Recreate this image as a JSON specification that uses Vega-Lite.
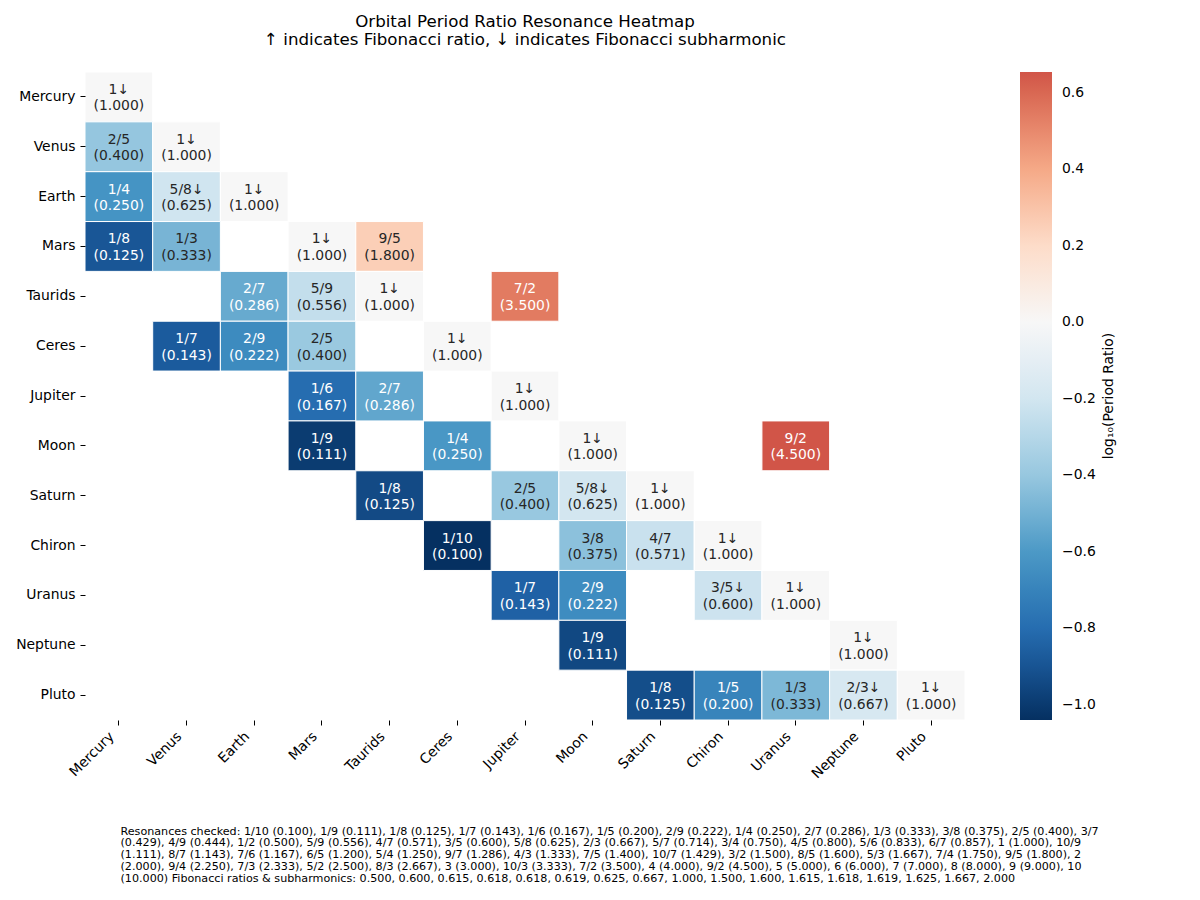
{
  "$schema": "https://vega.github.io/schema/vega-lite/v6.json",
  "width": 880,
  "height": 648,
  "autosize": {"type": "none"},
  "padding": {"left": 85, "top": 72, "right": 235, "bottom": 180},
  "background": "white",
  "title": {
    "text": ["Orbital Period Ratio Resonance Heatmap", "↑ indicates Fibonacci ratio, ↓ indicates Fibonacci subharmonic"],
    "anchor": "middle",
    "frame": "group",
    "font": "DejaVu Sans",
    "fontSize": 16.67,
    "fontWeight": "normal",
    "color": "black",
    "lineHeight": 17.5,
    "offset": 23
  },
  "config": {
    "view": {"stroke": null},
    "font": "DejaVu Sans"
  },
  "data": {
    "values": [
      {"row": "Mercury", "col": "Mercury", "v": 0.0, "label": "1↓\n(1.000)"},
      {"row": "Venus", "col": "Mercury", "v": -0.4074, "label": "2/5\n(0.400)"},
      {"row": "Venus", "col": "Venus", "v": 0.0, "label": "1↓\n(1.000)"},
      {"row": "Earth", "col": "Mercury", "v": -0.6183, "label": "1/4\n(0.250)"},
      {"row": "Earth", "col": "Venus", "v": -0.2110, "label": "5/8↓\n(0.625)"},
      {"row": "Earth", "col": "Earth", "v": 0.0, "label": "1↓\n(1.000)"},
      {"row": "Mars", "col": "Mercury", "v": -0.8927, "label": "1/8\n(0.125)"},
      {"row": "Mars", "col": "Venus", "v": -0.4853, "label": "1/3\n(0.333)"},
      {"row": "Mars", "col": "Mars", "v": 0.0, "label": "1↓\n(1.000)"},
      {"row": "Mars", "col": "Taurids", "v": 0.2558, "label": "9/5\n(1.800)"},
      {"row": "Taurids", "col": "Earth", "v": -0.5302, "label": "2/7\n(0.286)"},
      {"row": "Taurids", "col": "Mars", "v": -0.2558, "label": "5/9\n(0.556)"},
      {"row": "Taurids", "col": "Taurids", "v": 0.0, "label": "1↓\n(1.000)"},
      {"row": "Taurids", "col": "Jupiter", "v": 0.5440, "label": "7/2\n(3.500)"},
      {"row": "Ceres", "col": "Venus", "v": -0.8738, "label": "1/7\n(0.143)"},
      {"row": "Ceres", "col": "Earth", "v": -0.6628, "label": "2/9\n(0.222)"},
      {"row": "Ceres", "col": "Mars", "v": -0.3884, "label": "2/5\n(0.400)"},
      {"row": "Ceres", "col": "Ceres", "v": 0.0, "label": "1↓\n(1.000)"},
      {"row": "Jupiter", "col": "Mars", "v": -0.7998, "label": "1/6\n(0.167)"},
      {"row": "Jupiter", "col": "Taurids", "v": -0.5440, "label": "2/7\n(0.286)"},
      {"row": "Jupiter", "col": "Jupiter", "v": 0.0, "label": "1↓\n(1.000)"},
      {"row": "Moon", "col": "Mars", "v": -0.9954, "label": "1/9\n(0.111)"},
      {"row": "Moon", "col": "Ceres", "v": -0.6070, "label": "1/4\n(0.250)"},
      {"row": "Moon", "col": "Moon", "v": 0.0, "label": "1↓\n(1.000)"},
      {"row": "Moon", "col": "Uranus", "v": 0.6546, "label": "9/2\n(4.500)"},
      {"row": "Saturn", "col": "Taurids", "v": -0.9390, "label": "1/8\n(0.125)"},
      {"row": "Saturn", "col": "Jupiter", "v": -0.3950, "label": "2/5\n(0.400)"},
      {"row": "Saturn", "col": "Moon", "v": -0.1994, "label": "5/8↓\n(0.625)"},
      {"row": "Saturn", "col": "Saturn", "v": 0.0, "label": "1↓\n(1.000)"},
      {"row": "Chiron", "col": "Ceres", "v": -1.0398, "label": "1/10\n(0.100)"},
      {"row": "Chiron", "col": "Moon", "v": -0.4329, "label": "3/8\n(0.375)"},
      {"row": "Chiron", "col": "Saturn", "v": -0.2334, "label": "4/7\n(0.571)"},
      {"row": "Chiron", "col": "Chiron", "v": 0.0, "label": "1↓\n(1.000)"},
      {"row": "Uranus", "col": "Jupiter", "v": -0.8502, "label": "1/7\n(0.143)"},
      {"row": "Uranus", "col": "Moon", "v": -0.6546, "label": "2/9\n(0.222)"},
      {"row": "Uranus", "col": "Chiron", "v": -0.2217, "label": "3/5↓\n(0.600)"},
      {"row": "Uranus", "col": "Uranus", "v": 0.0, "label": "1↓\n(1.000)"},
      {"row": "Neptune", "col": "Moon", "v": -0.9472, "label": "1/9\n(0.111)"},
      {"row": "Neptune", "col": "Neptune", "v": 0.0, "label": "1↓\n(1.000)"},
      {"row": "Pluto", "col": "Saturn", "v": -0.9253, "label": "1/8\n(0.125)"},
      {"row": "Pluto", "col": "Chiron", "v": -0.6918, "label": "1/5\n(0.200)"},
      {"row": "Pluto", "col": "Uranus", "v": -0.4701, "label": "1/3\n(0.333)"},
      {"row": "Pluto", "col": "Neptune", "v": -0.1775, "label": "2/3↓\n(0.667)"},
      {"row": "Pluto", "col": "Pluto", "v": 0.0, "label": "1↓\n(1.000)"}
    ]
  },
  "encoding": {
    "x": {
      "field": "col",
      "type": "nominal",
      "scale": {"domain": ["Mercury", "Venus", "Earth", "Mars", "Taurids", "Ceres", "Jupiter", "Moon", "Saturn", "Chiron", "Uranus", "Neptune", "Pluto"], "paddingInner": 0, "paddingOuter": 0},
      "axis": {
        "orient": "bottom",
        "domain": false,
        "grid": false,
        "ticks": true,
        "tickSize": 5,
        "tickWidth": 1,
        "tickColor": "black",
        "labelAngle": -45,
        "labelAlign": "right",
        "labelBaseline": "bottom",
        "labelPadding": 14,
        "labelOffset": -2,
        "labelFont": "DejaVu Sans",
        "labelFontSize": 13.9,
        "labelColor": "black",
        "title": [
          "Resonances checked: 1/10 (0.100), 1/9 (0.111), 1/8 (0.125), 1/7 (0.143), 1/6 (0.167), 1/5 (0.200), 2/9 (0.222), 1/4 (0.250), 2/7 (0.286), 1/3 (0.333), 3/8 (0.375), 2/5 (0.400), 3/7",
          "(0.429), 4/9 (0.444), 1/2 (0.500), 5/9 (0.556), 4/7 (0.571), 3/5 (0.600), 5/8 (0.625), 2/3 (0.667), 5/7 (0.714), 3/4 (0.750), 4/5 (0.800), 5/6 (0.833), 6/7 (0.857), 1 (1.000), 10/9",
          "(1.111), 8/7 (1.143), 7/6 (1.167), 6/5 (1.200), 5/4 (1.250), 9/7 (1.286), 4/3 (1.333), 7/5 (1.400), 10/7 (1.429), 3/2 (1.500), 8/5 (1.600), 5/3 (1.667), 7/4 (1.750), 9/5 (1.800), 2",
          "(2.000), 9/4 (2.250), 7/3 (2.333), 5/2 (2.500), 8/3 (2.667), 3 (3.000), 10/3 (3.333), 7/2 (3.500), 4 (4.000), 9/2 (4.500), 5 (5.000), 6 (6.000), 7 (7.000), 8 (8.000), 9 (9.000), 10",
          "(10.000) Fibonacci ratios & subharmonics: 0.500, 0.600, 0.615, 0.618, 0.618, 0.619, 0.625, 0.667, 1.000, 1.500, 1.600, 1.615, 1.618, 1.619, 1.625, 1.667, 2.000"
        ],
        "titleFont": "DejaVu Sans",
        "titleFontSize": 11.15,
        "titleFontWeight": "normal",
        "titleColor": "black",
        "titleAlign": "left",
        "titleAnchor": "start",
        "titleBaseline": "top",
        "titleLineHeight": 11.8,
        "titleX": 35,
        "titleY": 105
      }
    },
    "y": {
      "field": "row",
      "type": "nominal",
      "scale": {"domain": ["Mercury", "Venus", "Earth", "Mars", "Taurids", "Ceres", "Jupiter", "Moon", "Saturn", "Chiron", "Uranus", "Neptune", "Pluto"], "paddingInner": 0, "paddingOuter": 0},
      "axis": {
        "domain": false,
        "grid": false,
        "ticks": true,
        "tickSize": 5,
        "tickWidth": 1,
        "tickColor": "black",
        "labelPadding": 5,
        "labelFont": "DejaVu Sans",
        "labelFontSize": 13.9,
        "labelColor": "black",
        "title": null
      }
    }
  },
  "layer": [
    {
      "mark": {"type": "rect", "stroke": "white", "strokeWidth": 1},
      "encoding": {
        "color": {
          "field": "v",
          "type": "quantitative",
          "scale": {
            "type": "linear",
            "domain": [-1.0398, -0.8318, -0.6239, -0.4159, -0.2080, 0, 0.2080, 0.4159, 0.6239, 0.6546],
            "range": ["#053061", "#2166ac", "#4393c3", "#92c5de", "#d1e5f0", "#f7f7f7", "#fddbc7", "#f4a582", "#d6604d", "#d15548"],
            "interpolate": "rgb"
          },
          "legend": {
            "type": "gradient",
            "orient": "right",
            "offset": 55,
            "direction": "vertical",
            "gradientLength": 648,
            "gradientThickness": 32,
            "gradientStrokeWidth": 0,
            "values": [-1.0, -0.8, -0.6, -0.4, -0.2, 0.0, 0.2, 0.4, 0.6],
            "format": ".1f",
            "labelFont": "DejaVu Sans",
            "labelFontSize": 13.9,
            "labelColor": "black",
            "labelOffset": 10,
            "labelOverlap": false,
            "title": "log₁₀(Period Ratio)",
            "titleOrient": "right",
            "titleFont": "DejaVu Sans",
            "titleFontSize": 13.9,
            "titleFontWeight": "normal",
            "titleColor": "black",
            "titlePadding": 20,
            "titleAnchor": "middle",
            "encode": {"title": {"update": {"angle": {"value": -90}}}}
          }
        }
      }
    },
    {
      "mark": {"type": "text", "font": "DejaVu Sans", "fontSize": 13.9, "lineBreak": "\n", "lineHeight": 16.5, "align": "center", "baseline": "middle", "dy": -7},
      "encoding": {
        "text": {"field": "label", "type": "nominal"},
        "color": {
          "condition": {"test": "datum.v < -0.5 || datum.v > 0.5", "value": "white"},
          "value": "#262626"
        }
      }
    }
  ]
}
